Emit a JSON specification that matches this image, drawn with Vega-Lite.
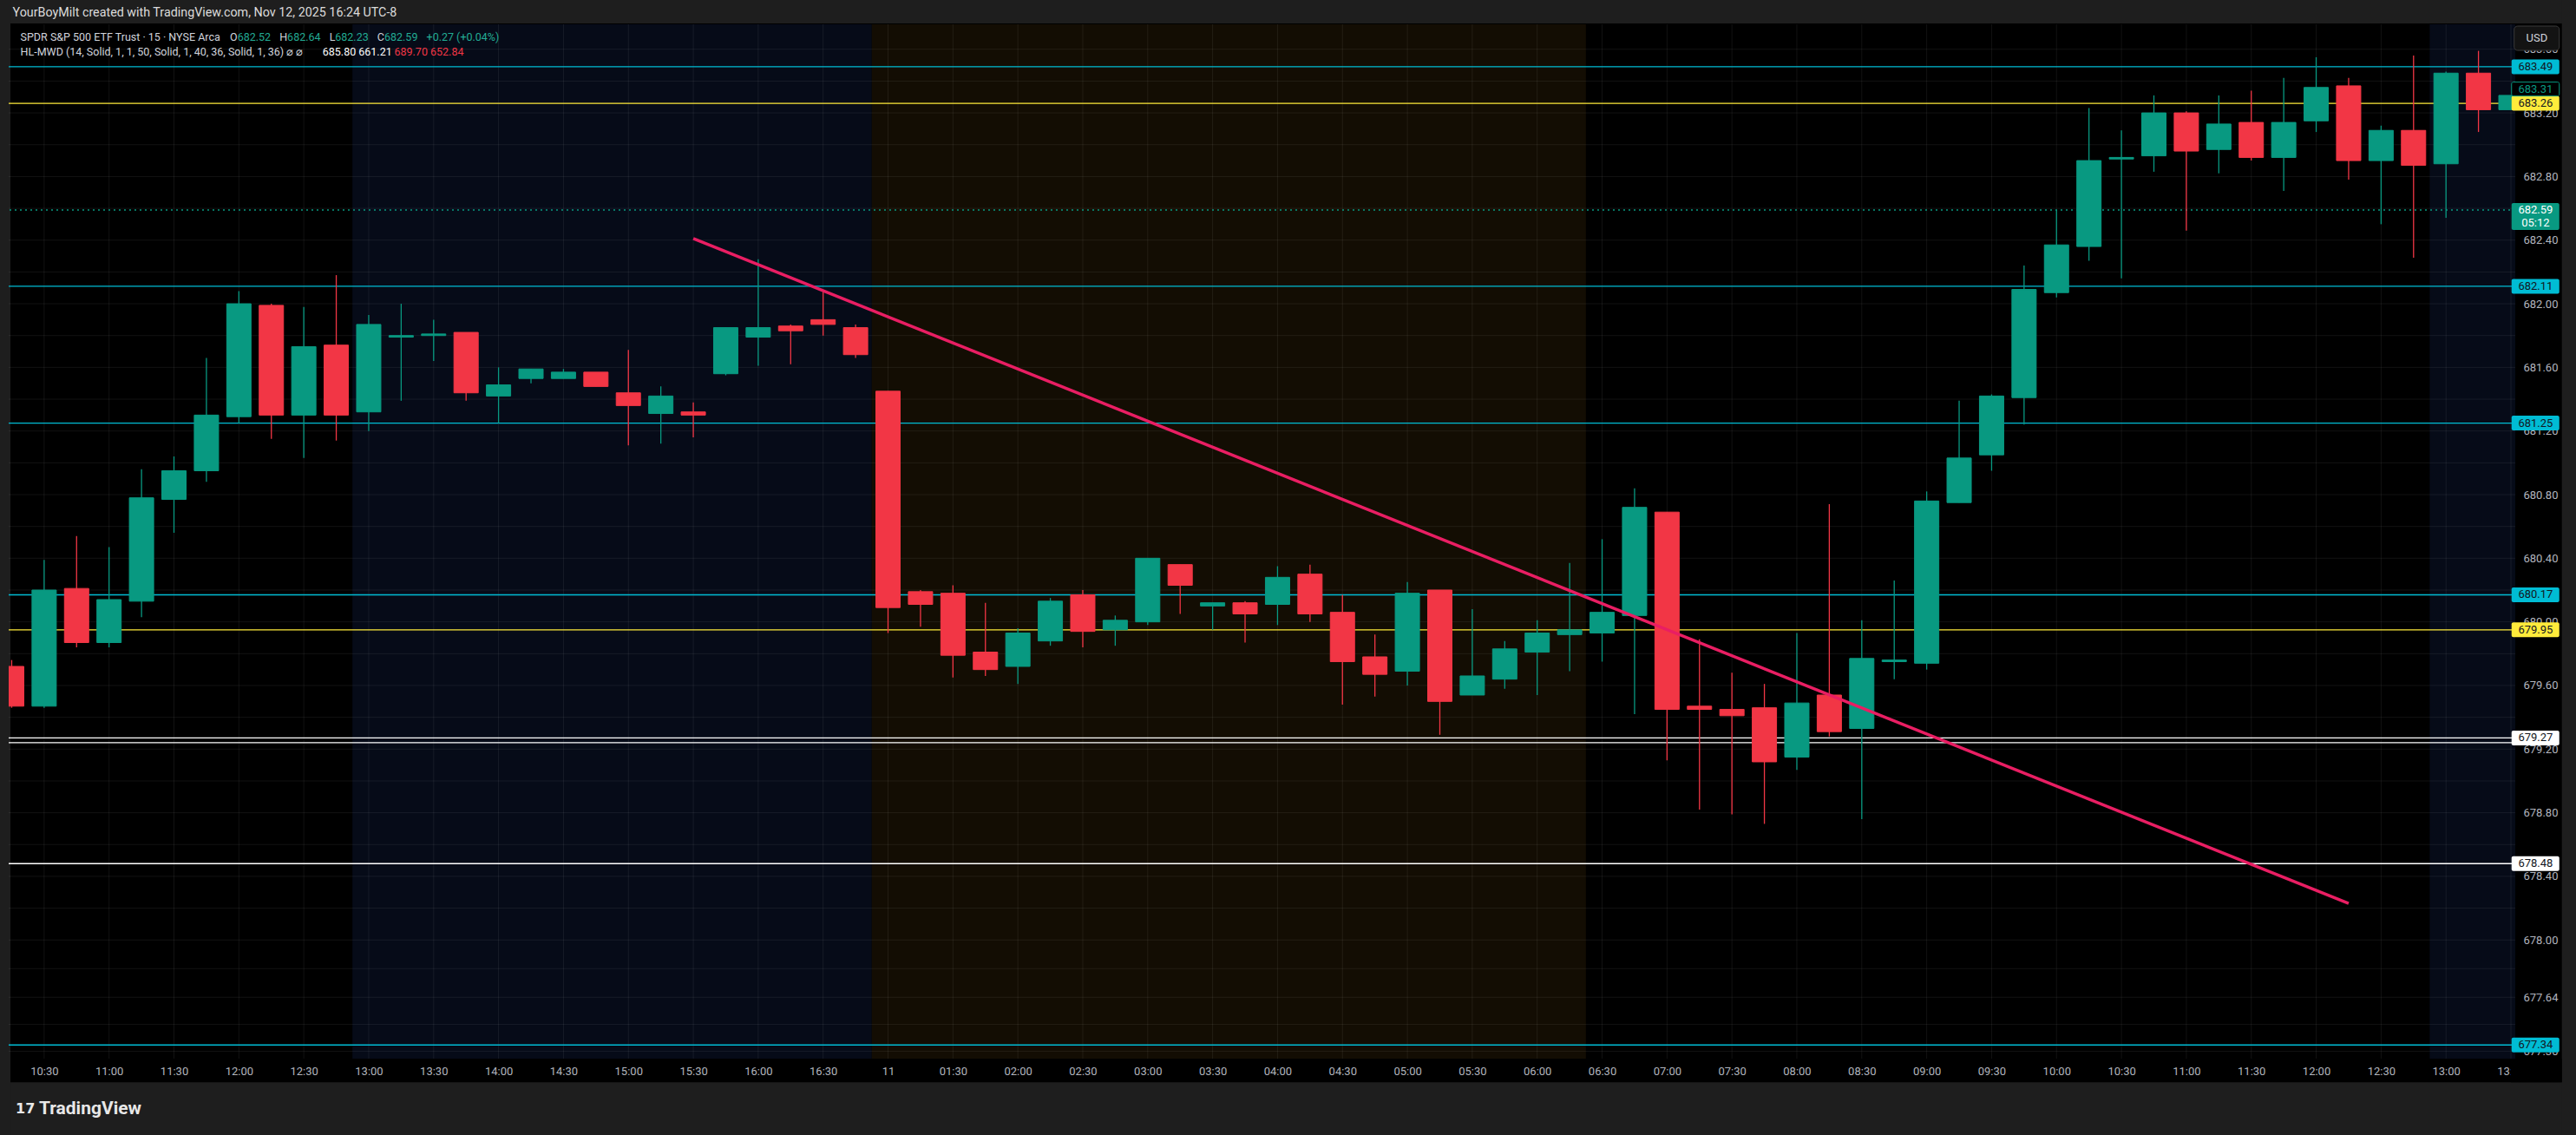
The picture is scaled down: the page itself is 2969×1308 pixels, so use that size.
{
  "$schema": "https://vega.github.io/schema/vega-lite/v6.json",
  "width": 2889,
  "height": 1192,
  "autosize": {"type": "none"},
  "padding": {"left": 10, "top": 28, "right": 70, "bottom": 88},
  "background": "#000000",
  "view": {"stroke": null},
  "config": {
    "axis": {"grid": false, "domain": false, "ticks": false, "labelFont": "Roboto", "labelFontSize": 13, "labelColor": "#b2b5be"}
  },
  "resolve": {"scale": {"color": "independent", "stroke": "independent", "strokeWidth": "independent"}},
  "datasets": {
    "bars": [
      {"t": "2025-11-10 10:15", "i": 0, "o": 679.72, "h": 679.76, "l": 679.46, "c": 679.47},
      {"t": "2025-11-10 10:30", "i": 1, "o": 679.47, "h": 680.39, "l": 679.46, "c": 680.20},
      {"t": "2025-11-10 10:45", "i": 2, "o": 680.21, "h": 680.54, "l": 679.84, "c": 679.87},
      {"t": "2025-11-10 11:00", "i": 3, "o": 679.87, "h": 680.47, "l": 679.84, "c": 680.14},
      {"t": "2025-11-10 11:15", "i": 4, "o": 680.13, "h": 680.96, "l": 680.03, "c": 680.78},
      {"t": "2025-11-10 11:30", "i": 5, "o": 680.77, "h": 681.04, "l": 680.56, "c": 680.95},
      {"t": "2025-11-10 11:45", "i": 6, "o": 680.95, "h": 681.66, "l": 680.88, "c": 681.30},
      {"t": "2025-11-10 12:00", "i": 7, "o": 681.29, "h": 682.08, "l": 681.25, "c": 682.00},
      {"t": "2025-11-10 12:15", "i": 8, "o": 681.99, "h": 682.00, "l": 681.15, "c": 681.30},
      {"t": "2025-11-10 12:30", "i": 9, "o": 681.30, "h": 681.98, "l": 681.03, "c": 681.73},
      {"t": "2025-11-10 12:45", "i": 10, "o": 681.74, "h": 682.18, "l": 681.14, "c": 681.30},
      {"t": "2025-11-10 13:00", "i": 11, "o": 681.32, "h": 681.93, "l": 681.20, "c": 681.87},
      {"t": "2025-11-10 13:15", "i": 12, "o": 681.79, "h": 682.00, "l": 681.39, "c": 681.80},
      {"t": "2025-11-10 13:30", "i": 13, "o": 681.80, "h": 681.90, "l": 681.64, "c": 681.81},
      {"t": "2025-11-10 13:45", "i": 14, "o": 681.82, "h": 681.82, "l": 681.39, "c": 681.44},
      {"t": "2025-11-10 14:00", "i": 15, "o": 681.42, "h": 681.60, "l": 681.25, "c": 681.49},
      {"t": "2025-11-10 14:15", "i": 16, "o": 681.53, "h": 681.59, "l": 681.50, "c": 681.59},
      {"t": "2025-11-10 14:30", "i": 17, "o": 681.53, "h": 681.59, "l": 681.53, "c": 681.57},
      {"t": "2025-11-10 14:45", "i": 18, "o": 681.57, "h": 681.57, "l": 681.48, "c": 681.48},
      {"t": "2025-11-10 15:00", "i": 19, "o": 681.44, "h": 681.71, "l": 681.11, "c": 681.36},
      {"t": "2025-11-10 15:15", "i": 20, "o": 681.31, "h": 681.48, "l": 681.12, "c": 681.42},
      {"t": "2025-11-10 15:30", "i": 21, "o": 681.32, "h": 681.38, "l": 681.16, "c": 681.30},
      {"t": "2025-11-10 15:45", "i": 22, "o": 681.56, "h": 681.85, "l": 681.55, "c": 681.85},
      {"t": "2025-11-10 16:00", "i": 23, "o": 681.79, "h": 682.28, "l": 681.61, "c": 681.85},
      {"t": "2025-11-10 16:15", "i": 24, "o": 681.86, "h": 681.87, "l": 681.62, "c": 681.83},
      {"t": "2025-11-10 16:30", "i": 25, "o": 681.90, "h": 682.08, "l": 681.80, "c": 681.87},
      {"t": "2025-11-10 16:45", "i": 26, "o": 681.85, "h": 681.87, "l": 681.66, "c": 681.68},
      {"t": "2025-11-11 01:00", "i": 27, "o": 681.45, "h": 681.45, "l": 679.93, "c": 680.09},
      {"t": "2025-11-11 01:15", "i": 28, "o": 680.19, "h": 680.20, "l": 679.97, "c": 680.11},
      {"t": "2025-11-11 01:30", "i": 29, "o": 680.18, "h": 680.23, "l": 679.65, "c": 679.79},
      {"t": "2025-11-11 01:45", "i": 30, "o": 679.81, "h": 680.12, "l": 679.66, "c": 679.70},
      {"t": "2025-11-11 02:00", "i": 31, "o": 679.72, "h": 679.96, "l": 679.61, "c": 679.93},
      {"t": "2025-11-11 02:15", "i": 32, "o": 679.88, "h": 680.15, "l": 679.85, "c": 680.13},
      {"t": "2025-11-11 02:30", "i": 33, "o": 680.17, "h": 680.20, "l": 679.84, "c": 679.94},
      {"t": "2025-11-11 02:45", "i": 34, "o": 679.95, "h": 680.04, "l": 679.85, "c": 680.01},
      {"t": "2025-11-11 03:00", "i": 35, "o": 680.00, "h": 680.40, "l": 679.98, "c": 680.40},
      {"t": "2025-11-11 03:15", "i": 36, "o": 680.36, "h": 680.36, "l": 680.05, "c": 680.23},
      {"t": "2025-11-11 03:30", "i": 37, "o": 680.10, "h": 680.12, "l": 679.95, "c": 680.12},
      {"t": "2025-11-11 03:45", "i": 38, "o": 680.12, "h": 680.13, "l": 679.87, "c": 680.05},
      {"t": "2025-11-11 04:00", "i": 39, "o": 680.11, "h": 680.35, "l": 679.98, "c": 680.28},
      {"t": "2025-11-11 04:15", "i": 40, "o": 680.30, "h": 680.36, "l": 680.00, "c": 680.05},
      {"t": "2025-11-11 04:30", "i": 41, "o": 680.06, "h": 680.17, "l": 679.48, "c": 679.75},
      {"t": "2025-11-11 04:45", "i": 42, "o": 679.78, "h": 679.92, "l": 679.53, "c": 679.67},
      {"t": "2025-11-11 05:00", "i": 43, "o": 679.69, "h": 680.25, "l": 679.60, "c": 680.18},
      {"t": "2025-11-11 05:15", "i": 44, "o": 680.20, "h": 680.20, "l": 679.29, "c": 679.50},
      {"t": "2025-11-11 05:30", "i": 45, "o": 679.54, "h": 680.08, "l": 679.54, "c": 679.66},
      {"t": "2025-11-11 05:45", "i": 46, "o": 679.64, "h": 679.88, "l": 679.58, "c": 679.83},
      {"t": "2025-11-11 06:00", "i": 47, "o": 679.81, "h": 680.01, "l": 679.54, "c": 679.93},
      {"t": "2025-11-11 06:15", "i": 48, "o": 679.92, "h": 680.37, "l": 679.69, "c": 679.95},
      {"t": "2025-11-11 06:30", "i": 49, "o": 679.93, "h": 680.52, "l": 679.75, "c": 680.06},
      {"t": "2025-11-11 06:45", "i": 50, "o": 680.04, "h": 680.84, "l": 679.42, "c": 680.72},
      {"t": "2025-11-11 07:00", "i": 51, "o": 680.69, "h": 680.69, "l": 679.13, "c": 679.45},
      {"t": "2025-11-11 07:15", "i": 52, "o": 679.47, "h": 679.89, "l": 678.82, "c": 679.45},
      {"t": "2025-11-11 07:30", "i": 53, "o": 679.45, "h": 679.68, "l": 678.79, "c": 679.41},
      {"t": "2025-11-11 07:45", "i": 54, "o": 679.46, "h": 679.61, "l": 678.73, "c": 679.12},
      {"t": "2025-11-11 08:00", "i": 55, "o": 679.15, "h": 679.93, "l": 679.07, "c": 679.49},
      {"t": "2025-11-11 08:15", "i": 56, "o": 679.54, "h": 680.74, "l": 679.28, "c": 679.31},
      {"t": "2025-11-11 08:30", "i": 57, "o": 679.33, "h": 680.01, "l": 678.76, "c": 679.77},
      {"t": "2025-11-11 08:45", "i": 58, "o": 679.75, "h": 680.26, "l": 679.64, "c": 679.76},
      {"t": "2025-11-11 09:00", "i": 59, "o": 679.74, "h": 680.82, "l": 679.70, "c": 680.76},
      {"t": "2025-11-11 09:15", "i": 60, "o": 680.75, "h": 681.39, "l": 680.75, "c": 681.03},
      {"t": "2025-11-11 09:30", "i": 61, "o": 681.05, "h": 681.43, "l": 680.95, "c": 681.42},
      {"t": "2025-11-11 09:45", "i": 62, "o": 681.41, "h": 682.24, "l": 681.24, "c": 682.09},
      {"t": "2025-11-11 10:00", "i": 63, "o": 682.07, "h": 682.59, "l": 682.04, "c": 682.37},
      {"t": "2025-11-11 10:15", "i": 64, "o": 682.36, "h": 683.23, "l": 682.27, "c": 682.90},
      {"t": "2025-11-11 10:30", "i": 65, "o": 682.91, "h": 683.09, "l": 682.16, "c": 682.92},
      {"t": "2025-11-11 10:45", "i": 66, "o": 682.93, "h": 683.31, "l": 682.83, "c": 683.20},
      {"t": "2025-11-11 11:00", "i": 67, "o": 683.20, "h": 683.21, "l": 682.46, "c": 682.96},
      {"t": "2025-11-11 11:15", "i": 68, "o": 682.97, "h": 683.31, "l": 682.82, "c": 683.13},
      {"t": "2025-11-11 11:30", "i": 69, "o": 683.14, "h": 683.34, "l": 682.90, "c": 682.92},
      {"t": "2025-11-11 11:45", "i": 70, "o": 682.92, "h": 683.42, "l": 682.71, "c": 683.14},
      {"t": "2025-11-11 12:00", "i": 71, "o": 683.15, "h": 683.55, "l": 683.08, "c": 683.36},
      {"t": "2025-11-11 12:15", "i": 72, "o": 683.37, "h": 683.42, "l": 682.78, "c": 682.90},
      {"t": "2025-11-11 12:30", "i": 73, "o": 682.90, "h": 683.12, "l": 682.50, "c": 683.09},
      {"t": "2025-11-11 12:45", "i": 74, "o": 683.09, "h": 683.56, "l": 682.29, "c": 682.87},
      {"t": "2025-11-11 13:00", "i": 75, "o": 682.88, "h": 683.46, "l": 682.54, "c": 683.45},
      {"t": "2025-11-11 13:15", "i": 76, "o": 683.45, "h": 683.59, "l": 683.08, "c": 683.22},
      {"t": "2025-11-11 13:30", "i": 77, "o": 683.22, "h": 683.31, "l": 683.22, "c": 683.31}
    ],
    "sessions": [
      {"from": 11, "to": 26, "kind": "post"},
      {"from": 27, "to": 48, "kind": "pre"},
      {"from": 75, "to": 77, "kind": "post"}
    ],
    "ygrid": [
      {"v": 677.30}, {"v": 677.47}, {"v": 677.64}, {"v": 677.82}, {"v": 678.0}, {"v": 678.2}, {"v": 678.4}, {"v": 678.6}, {"v": 678.8},
      {"v": 679.0}, {"v": 679.2}, {"v": 679.4}, {"v": 679.6}, {"v": 679.8}, {"v": 680.0}, {"v": 680.2}, {"v": 680.4}, {"v": 680.6}, {"v": 680.8},
      {"v": 681.0}, {"v": 681.2}, {"v": 681.4}, {"v": 681.6}, {"v": 681.8}, {"v": 682.0}, {"v": 682.2}, {"v": 682.4}, {"v": 682.6}, {"v": 682.8},
      {"v": 683.0}, {"v": 683.2}, {"v": 683.4}, {"v": 683.6}
    ],
    "xgrid": [
      {"v": 1}, {"v": 3}, {"v": 5}, {"v": 7}, {"v": 9}, {"v": 11}, {"v": 13}, {"v": 15}, {"v": 17}, {"v": 19}, {"v": 21}, {"v": 23}, {"v": 25},
      {"v": 27}, {"v": 29}, {"v": 31}, {"v": 33}, {"v": 35}, {"v": 37}, {"v": 39}, {"v": 41}, {"v": 43}, {"v": 45}, {"v": 47}, {"v": 49}, {"v": 51},
      {"v": 53}, {"v": 55}, {"v": 57}, {"v": 59}, {"v": 61}, {"v": 63}, {"v": 65}, {"v": 67}, {"v": 69}, {"v": 71}, {"v": 73}, {"v": 75}, {"v": 77}
    ],
    "levels": [
      {"p": 683.49, "kind": "cyan"},
      {"p": 683.26, "kind": "yellow"},
      {"p": 682.11, "kind": "cyan"},
      {"p": 681.25, "kind": "cyan"},
      {"p": 680.17, "kind": "cyan"},
      {"p": 679.95, "kind": "yellow"},
      {"p": 679.27, "kind": "white"},
      {"p": 679.24, "kind": "white"},
      {"p": 678.48, "kind": "whitebold"},
      {"p": 677.34, "kind": "cyan"}
    ],
    "plabels": [
      {"p": 683.49, "kind": "cyan"},
      {"p": 683.26, "kind": "yellow"},
      {"p": 682.11, "kind": "cyan"},
      {"p": 681.25, "kind": "cyan"},
      {"p": 680.17, "kind": "cyan"},
      {"p": 679.95, "kind": "yellow"},
      {"p": 679.27, "kind": "white"},
      {"p": 678.48, "kind": "white"},
      {"p": 677.34, "kind": "cyan"}
    ],
    "trend": [
      {"i": 21, "p": 682.41},
      {"i": 72, "p": 678.23}
    ]
  },
  "layer": [
    {
      "data": {"values": [{}]},
      "mark": {"type": "rect", "color": "#1e1e1e"},
      "encoding": {"x": {"datum": -1, "type": "quantitative"}, "x2": {"datum": 80}, "y": {"datum": 683.762, "type": "quantitative"}, "y2": {"datum": 684.3}}
    },
    {
      "data": {"values": [{}]},
      "mark": {"type": "rect", "color": "#1e1e1e"},
      "encoding": {"x": {"datum": -1, "type": "quantitative"}, "x2": {"datum": 80}, "y": {"datum": 676.4, "type": "quantitative"}, "y2": {"datum": 677.106}}
    },
    {
      "data": {"values": [{}]},
      "mark": {"type": "rect", "color": "#1e1e1e"},
      "encoding": {"x": {"datum": -1, "type": "quantitative"}, "x2": {"datum": -0.039}, "y": {"datum": 676.4, "type": "quantitative"}, "y2": {"datum": 684.3}}
    },
    {
      "data": {"values": [{}]},
      "mark": {"type": "rect", "color": "#1e1e1e"},
      "encoding": {"x": {"datum": 78.57, "type": "quantitative"}, "x2": {"datum": 80}, "y": {"datum": 676.4, "type": "quantitative"}, "y2": {"datum": 684.3}}
    },
    {
      "data": {"name": "sessions"},
      "mark": {"type": "rect", "clip": true, "xOffset": -18.77, "x2Offset": 18.77},
      "encoding": {
        "x": {"field": "from", "type": "quantitative", "title": null},
        "x2": {"field": "to"},
        "y": {"datum": 677.254, "type": "quantitative"},
        "y2": {"datum": 683.757},
        "color": {"field": "kind", "type": "nominal", "scale": {"domain": ["post", "pre"], "range": ["#060b18", "#130d03"]}, "legend": null}
      }
    },
    {
      "data": {"name": "ygrid"},
      "mark": {"type": "rule", "color": "#ffffff", "opacity": 0.07, "strokeWidth": 1},
      "encoding": {"y": {"field": "v", "type": "quantitative", "title": null}}
    },
    {
      "data": {"name": "xgrid"},
      "mark": {"type": "rule", "color": "#ffffff", "opacity": 0.07, "strokeWidth": 1},
      "encoding": {"x": {"field": "v", "type": "quantitative", "title": null}}
    },
    {
      "data": {"name": "levels"},
      "mark": {"type": "rule"},
      "encoding": {
        "y": {"field": "p", "type": "quantitative", "title": null},
        "color": {"field": "kind", "type": "nominal", "scale": {"domain": ["cyan", "yellow", "white", "whitebold"], "range": ["#00bcd4", "#ffeb3b", "#ffffff", "#ffffff"]}, "legend": null},
        "strokeWidth": {"field": "kind", "type": "nominal", "scale": {"domain": ["cyan", "yellow", "white", "whitebold"], "range": [1.3, 1.3, 1.2, 2.2]}, "legend": null}
      }
    },
    {
      "data": {"values": [{}]},
      "mark": {"type": "rule", "color": "#089981", "strokeDash": [2, 4], "strokeWidth": 1.5},
      "encoding": {"y": {"datum": 682.59, "type": "quantitative"}}
    },
    {
      "data": {"name": "bars"},
      "mark": {"type": "rule", "clip": true, "strokeWidth": 1.3},
      "encoding": {
        "x": {
          "field": "i", "type": "quantitative", "title": null,
          "scale": {"domain": [0.041, 77.0], "nice": false, "zero": false},
          "axis": {
            "orient": "bottom",
            "values": [1, 3, 5, 7, 9, 11, 13, 15, 17, 19, 21, 23, 25, 27, 29, 31, 33, 35, 37, 39, 41, 43, 45, 47, 49, 51, 53, 55, 57, 59, 61, 63, 65, 67, 69, 71, 73, 75, 77],
            "labelExpr": "datum.value == 27 ? '11' : pad(toString(floor((datum.value < 27 ? 615 + datum.value * 15 : datum.value * 15 - 345) / 60)), 2, '0', 'left') + ':' + pad(toString((datum.value < 27 ? 615 + datum.value * 15 : datum.value * 15 - 345) % 60), 2, '0', 'left')",
            "labelPadding": 8,
            "labelFlush": false,
            "labelOverlap": false,
            "labelBound": false
          }
        },
        "y": {
          "field": "l", "type": "quantitative", "title": null,
          "scale": {"domain": [677.254, 683.757], "nice": false, "zero": false},
          "axis": {
            "orient": "right",
            "values": [677.30, 677.47, 677.64, 677.82, 678.0, 678.2, 678.4, 678.6, 678.8, 679.0, 679.2, 679.4, 679.6, 679.8, 680.0, 680.2, 680.4, 680.6, 680.8, 681.0, 681.2, 681.4, 681.6, 681.8, 682.0, 682.2, 682.4, 682.6, 682.8, 683.0, 683.2, 683.4, 683.6],
            "format": ".2f",
            "labelPadding": 9,
            "labelOverlap": false,
            "labelBound": false,
            "labelFlush": false
          }
        },
        "y2": {"field": "h"},
        "color": {"condition": {"test": "datum.c >= datum.o", "value": "#089981"}, "value": "#f23645"}
      }
    },
    {
      "data": {"name": "bars"},
      "mark": {"type": "bar", "width": 28, "clip": true, "strokeWidth": 1},
      "encoding": {
        "x": {"field": "i", "type": "quantitative", "title": null},
        "y": {"field": "o", "type": "quantitative", "title": null},
        "y2": {"field": "c"},
        "color": {"condition": {"test": "datum.c >= datum.o", "value": "#089981"}, "value": "#f23645"},
        "stroke": {"condition": {"test": "datum.c >= datum.o", "value": "#089981"}, "value": "#f23645"}
      }
    },
    {
      "data": {"name": "trend"},
      "mark": {"type": "line", "color": "#e91e63", "strokeWidth": 3.5},
      "encoding": {
        "x": {"field": "i", "type": "quantitative", "title": null},
        "y": {"field": "p", "type": "quantitative", "title": null}
      }
    },
    {
      "data": {"name": "plabels"},
      "mark": {"type": "rect", "yOffset": -8.5, "y2Offset": 8.5, "cornerRadius": 2},
      "encoding": {
        "x": {"datum": 77.02, "type": "quantitative"},
        "x2": {"datum": 78.49},
        "y": {"field": "p", "type": "quantitative", "title": null},
        "y2": {"field": "p"},
        "color": {"field": "kind", "type": "nominal", "scale": {"domain": ["cyan", "yellow", "white"], "range": ["#00bcd4", "#ffeb3b", "#ffffff"]}, "legend": null}
      }
    },
    {
      "data": {"name": "plabels"},
      "mark": {"type": "text", "font": "Roboto", "fontSize": 13, "align": "center", "baseline": "middle", "color": "#131722"},
      "encoding": {
        "x": {"datum": 77.76, "type": "quantitative"},
        "y": {"field": "p", "type": "quantitative", "title": null},
        "text": {"field": "p", "type": "quantitative", "format": ".2f"}
      }
    },
    {
      "data": {"values": [{}]},
      "mark": {"type": "rect", "yOffset": -8, "y2Offset": 8, "cornerRadius": 2, "fill": "#000000", "stroke": "#089981", "strokeWidth": 1},
      "encoding": {"x": {"datum": 77.02, "type": "quantitative"}, "x2": {"datum": 78.49}, "y": {"datum": 683.35, "type": "quantitative"}, "y2": {"datum": 683.35}}
    },
    {
      "data": {"values": [{}]},
      "mark": {"type": "text", "font": "Roboto", "fontSize": 13, "align": "center", "baseline": "middle", "color": "#089981", "text": "683.31"},
      "encoding": {"x": {"datum": 77.76, "type": "quantitative"}, "y": {"datum": 683.35, "type": "quantitative"}}
    },
    {
      "data": {"values": [{}]},
      "mark": {"type": "rect", "yOffset": -15.5, "y2Offset": 15.5, "cornerRadius": 2, "color": "#089981"},
      "encoding": {"x": {"datum": 77.02, "type": "quantitative"}, "x2": {"datum": 78.49}, "y": {"datum": 682.548, "type": "quantitative"}, "y2": {"datum": 682.548}}
    },
    {
      "data": {"values": [{}]},
      "mark": {"type": "text", "font": "Roboto", "fontSize": 13, "align": "center", "baseline": "middle", "color": "#ffffff", "text": "682.59"},
      "encoding": {"x": {"datum": 77.76, "type": "quantitative"}, "y": {"datum": 682.587, "type": "quantitative"}}
    },
    {
      "data": {"values": [{}]},
      "mark": {"type": "text", "font": "Roboto", "fontSize": 13, "align": "center", "baseline": "middle", "color": "#ffffff", "text": "05:12"},
      "encoding": {"x": {"datum": 77.76, "type": "quantitative"}, "y": {"datum": 682.509, "type": "quantitative"}}
    },
    {
      "data": {"values": [{}]},
      "mark": {"type": "rect", "cornerRadius": 4, "fill": "#131313", "stroke": "#3a3a3a", "strokeWidth": 1},
      "encoding": {"x": {"datum": 77.1, "type": "quantitative"}, "x2": {"datum": 78.49}, "y": {"datum": 683.593, "type": "quantitative"}, "y2": {"datum": 683.746}}
    },
    {
      "data": {"values": [{}]},
      "mark": {"type": "text", "font": "Roboto", "fontSize": 13, "align": "center", "baseline": "middle", "color": "#d1d4dc", "text": "USD"},
      "encoding": {"x": {"datum": 77.8, "type": "quantitative"}, "y": {"datum": 683.669, "type": "quantitative"}}
    },
    {
      "data": {"values": [{}]},
      "mark": {"type": "rect", "color": "#000000"},
      "encoding": {"x": {"datum": 77.0, "type": "quantitative"}, "x2": {"datum": 78.57}, "y": {"datum": 677.106, "type": "quantitative"}, "y2": {"datum": 677.254}}
    },
    {
      "data": {"values": [{}]},
      "mark": {"type": "text", "font": "Roboto", "fontSize": 14.3, "align": "left", "baseline": "middle", "color": "#dbdbdb", "text": "YourBoyMilt created with TradingView.com, Nov 12, 2025 16:24 UTC-8"},
      "encoding": {"x": {"datum": 0.028, "type": "quantitative"}, "y": {"datum": 683.828, "type": "quantitative"}}
    },
    {
      "data": {"values": [{}]},
      "mark": {"type": "text", "font": "Roboto", "fontSize": 12.5, "align": "left", "baseline": "middle", "color": "#d1d4dc", "text": "SPDR S&P 500 ETF Trust · 15 · NYSE Arca"},
      "encoding": {"x": {"datum": 0.27, "type": "quantitative"}, "y": {"datum": 683.673, "type": "quantitative"}}
    },
    {
      "data": {"values": [{}]},
      "mark": {"type": "text", "font": "Roboto", "fontSize": 12.5, "align": "left", "baseline": "middle", "color": "#d1d4dc", "text": "O"},
      "encoding": {"x": {"datum": 6.727, "type": "quantitative"}, "y": {"datum": 683.673, "type": "quantitative"}}
    },
    {
      "data": {"values": [{}]},
      "mark": {"type": "text", "font": "Roboto", "fontSize": 12.5, "align": "left", "baseline": "middle", "color": "#22ab94", "text": "682.52"},
      "encoding": {"x": {"datum": 6.956, "type": "quantitative"}, "y": {"datum": 683.673, "type": "quantitative"}}
    },
    {
      "data": {"values": [{}]},
      "mark": {"type": "text", "font": "Roboto", "fontSize": 12.5, "align": "left", "baseline": "middle", "color": "#d1d4dc", "text": "H"},
      "encoding": {"x": {"datum": 8.254, "type": "quantitative"}, "y": {"datum": 683.673, "type": "quantitative"}}
    },
    {
      "data": {"values": [{}]},
      "mark": {"type": "text", "font": "Roboto", "fontSize": 12.5, "align": "left", "baseline": "middle", "color": "#22ab94", "text": "682.64"},
      "encoding": {"x": {"datum": 8.491, "type": "quantitative"}, "y": {"datum": 683.673, "type": "quantitative"}}
    },
    {
      "data": {"values": [{}]},
      "mark": {"type": "text", "font": "Roboto", "fontSize": 12.5, "align": "left", "baseline": "middle", "color": "#d1d4dc", "text": "L"},
      "encoding": {"x": {"datum": 9.788, "type": "quantitative"}, "y": {"datum": 683.673, "type": "quantitative"}}
    },
    {
      "data": {"values": [{}]},
      "mark": {"type": "text", "font": "Roboto", "fontSize": 12.5, "align": "left", "baseline": "middle", "color": "#22ab94", "text": "682.23"},
      "encoding": {"x": {"datum": 9.966, "type": "quantitative"}, "y": {"datum": 683.673, "type": "quantitative"}}
    },
    {
      "data": {"values": [{}]},
      "mark": {"type": "text", "font": "Roboto", "fontSize": 12.5, "align": "left", "baseline": "middle", "color": "#d1d4dc", "text": "C"},
      "encoding": {"x": {"datum": 11.264, "type": "quantitative"}, "y": {"datum": 683.673, "type": "quantitative"}}
    },
    {
      "data": {"values": [{}]},
      "mark": {"type": "text", "font": "Roboto", "fontSize": 12.5, "align": "left", "baseline": "middle", "color": "#22ab94", "text": "682.59"},
      "encoding": {"x": {"datum": 11.482, "type": "quantitative"}, "y": {"datum": 683.673, "type": "quantitative"}}
    },
    {
      "data": {"values": [{}]},
      "mark": {"type": "text", "font": "Roboto", "fontSize": 12.5, "align": "left", "baseline": "middle", "color": "#22ab94", "text": "+0.27 (+0.04%)"},
      "encoding": {"x": {"datum": 12.78, "type": "quantitative"}, "y": {"datum": 683.673, "type": "quantitative"}}
    },
    {
      "data": {"values": [{}]},
      "mark": {"type": "text", "font": "Roboto", "fontSize": 12.5, "align": "left", "baseline": "middle", "color": "#d1d4dc", "text": "HL-MWD (14, Solid, 1, 1, 50, Solid, 1, 40, 36, Solid, 1, 36)  ⌀ ⌀"},
      "encoding": {"x": {"datum": 0.27, "type": "quantitative"}, "y": {"datum": 683.582, "type": "quantitative"}}
    },
    {
      "data": {"values": [{}]},
      "mark": {"type": "text", "font": "Roboto", "fontSize": 12.5, "align": "left", "baseline": "middle", "color": "#ffffff", "text": "685.80 661.21"},
      "encoding": {"x": {"datum": 9.578, "type": "quantitative"}, "y": {"datum": 683.582, "type": "quantitative"}}
    },
    {
      "data": {"values": [{}]},
      "mark": {"type": "text", "font": "Roboto", "fontSize": 12.5, "align": "left", "baseline": "middle", "color": "#f23645", "text": "689.70 652.84"},
      "encoding": {"x": {"datum": 11.789, "type": "quantitative"}, "y": {"datum": 683.582, "type": "quantitative"}}
    },
    {
      "data": {"values": [{}]},
      "mark": {"type": "text", "font": "DejaVu Sans", "fontSize": 16, "fontWeight": "bold", "align": "left", "baseline": "middle", "color": "#e8e8e8", "text": "17"},
      "encoding": {"x": {"datum": 0.121, "type": "quantitative"}, "y": {"datum": 676.937, "type": "quantitative"}}
    },
    {
      "data": {"values": [{}]},
      "mark": {"type": "text", "font": "Roboto", "fontSize": 21, "fontWeight": "bold", "align": "left", "baseline": "middle", "color": "#e8e8e8", "text": "TradingView"},
      "encoding": {"x": {"datum": 0.84, "type": "quantitative"}, "y": {"datum": 676.937, "type": "quantitative"}}
    }
  ]
}
